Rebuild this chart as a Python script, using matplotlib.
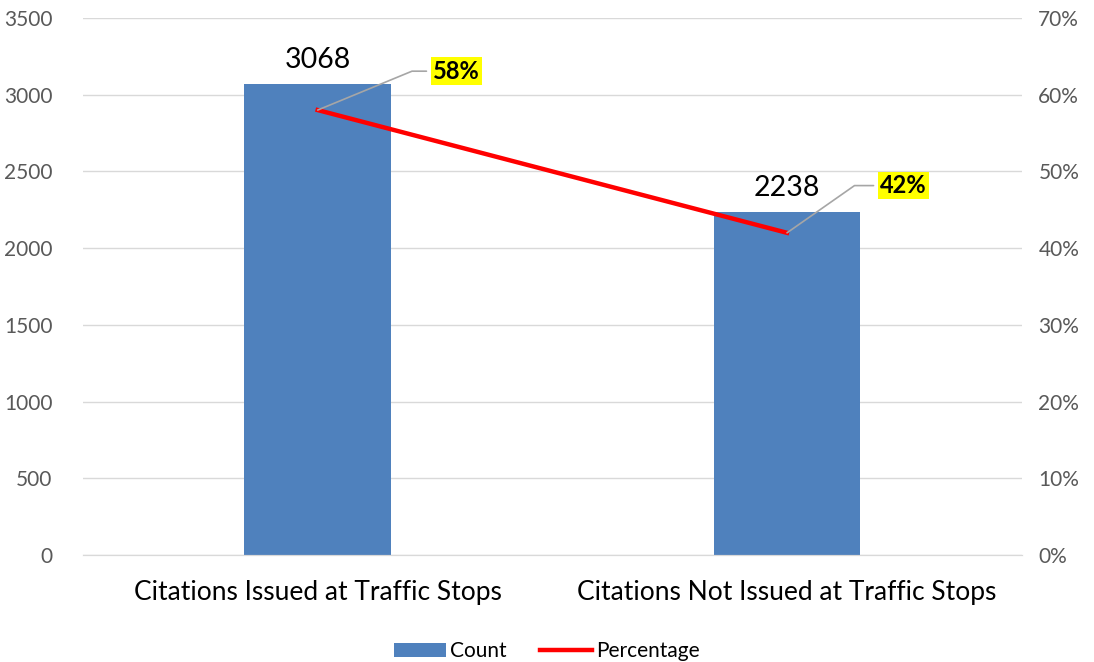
import matplotlib.pyplot as plt
from matplotlib.lines import Line2D
from matplotlib.patches import Patch
import math

categories = ['Citations Issued at Traffic Stops', 'Citations Not Issued at Traffic Stops']
counts = [3068, 2238]
percentages = [58, 42]
count_ticks = [0, 500, 1000, 1500, 2000, 2500, 3000, 3500]
pct_ticks = [0, 10, 20, 30, 40, 50, 60, 70]

plt.rcParams['font.family'] = ['Lato', 'DejaVu Sans']

fig = plt.figure(figsize=(10.94, 6.62), dpi=100)
ax1 = fig.add_axes([0.0759, 0.1616, 0.8580, 0.8112])
ax2 = ax1.twinx()

x = list(range(len(categories)))

# bars on the left axis
ax1.bar(x, counts, width=0.313, color='#4f81bd', zorder=2)
ax1.set_ylim(0, 3500)
ax1.set_xlim(-0.5, 1.5)
ax1.set_yticks(count_ticks)
ax1.set_xticks(x)
ax1.set_xticklabels(categories)
ax1.grid(axis='y', color='#d9d9d9', linewidth=1, zorder=0)
ax1.set_axisbelow(True)
for i, c in enumerate(counts):
    ax1.annotate(str(c), (i, c), xytext=(0, 8), textcoords='offset points',
                 ha='center', va='bottom', fontsize=20.5, color='black')

# percentage line on the right axis
ax2.plot(x, percentages, color='red', linewidth=3.2, zorder=3)
ax2.set_ylim(0, 70)
ax2.set_yticks(pct_ticks)
ax2.set_yticklabels([f'{t}%' for t in pct_ticks])
# label offsets (points) and leader angles, one per label
offsets = [(83, 28), (67, 34)]
angles = [math.degrees(math.atan2(40, 97)), math.degrees(math.atan2(49, 70))]
for i, p in enumerate(percentages):
    ax2.annotate(f'{p}%', (i, p), xytext=offsets[i], textcoords='offset points',
                 ha='left', va='center', fontsize=17, fontweight='bold',
                 bbox=dict(boxstyle='square,pad=0.1', fc='yellow', ec='none'),
                 arrowprops=dict(arrowstyle='-', color='#a6a6a6', lw=1.2,
                                 shrinkA=3, shrinkB=0,
                                 connectionstyle=f'angle,angleA=0,angleB={angles[i]}'))

for ax in (ax1, ax2):
    for s in ['top', 'left', 'right']:
        ax.spines[s].set_visible(False)
    ax.spines['bottom'].set_color('#d9d9d9')
    ax.tick_params(axis='both', length=0, labelsize=15, colors='#595959')
ax1.tick_params(axis='x', colors='black', labelsize=19, pad=18)
ax1.tick_params(axis='y', pad=22)
ax2.tick_params(axis='y', pad=12)

handles = [Patch(facecolor='#4f81bd', label='Count'),
           Line2D([0], [0], color='red', linewidth=3.2, label='Percentage')]
fig.legend(handles=handles, loc='lower center', bbox_to_anchor=(0.5, -0.027),
           ncol=2, frameon=False, fontsize=15, handlelength=2.5,
           handletextpad=0.2, columnspacing=1.6)

fig.savefig('out.png', dpi=100)
